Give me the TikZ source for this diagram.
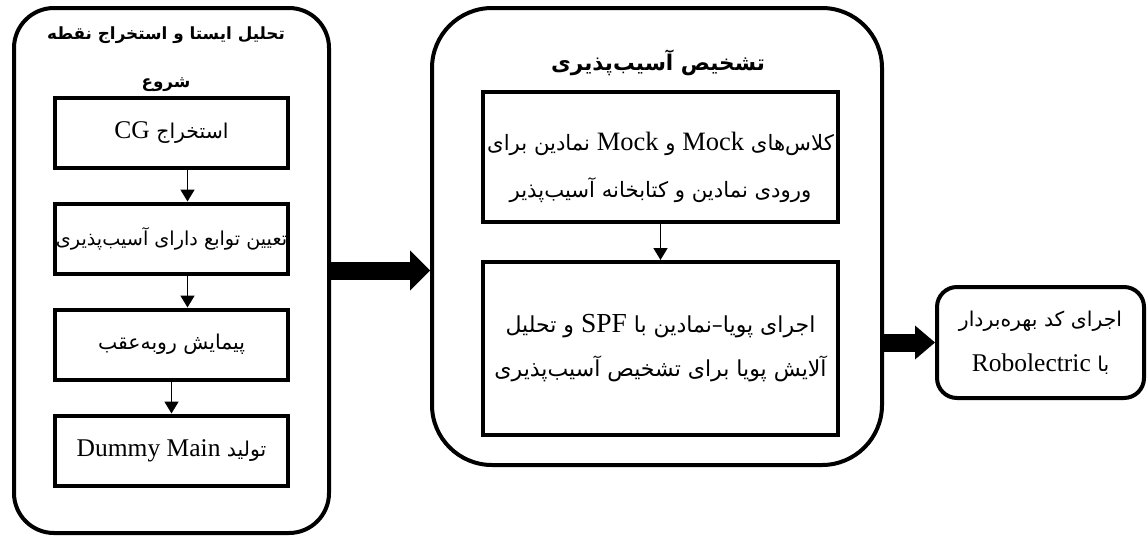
\documentclass[tikz,border=0pt]{standalone}
\usepackage{fontspec}
\setmainfont{Liberation Serif}
\newfontfamily\arabicfont[Script=Arabic,Scale=0.8]{DejaVu Sans}
\TeXXeTstate=1
\usetikzlibrary{arrows.meta,positioning}
\newcommand{\fa}[1]{{\arabicfont\beginR #1\endR}}
\newcommand{\la}[1]{{\rmfamily\beginL #1\endL}}

\begin{document}
\begin{tikzpicture}[x=1pt,y=-1pt,
    outer/.style={draw,line width=4pt,rounded corners=#1,inner sep=0pt},
    txt/.style={align=center,font=\fontsize{25.5}{45}\selectfont},
    box/.style={draw,line width=4pt,txt,inner sep=0pt},
    flow/.style={line width=1.8pt,-{Triangle[length=12pt,width=14pt]}},
    fat/.style={line width=18pt,-{Triangle[length=20pt,width=#1,line width=0pt]}},
    node distance=32pt]
\useasboundingbox (0,0) rectangle (1147,541);

\node[outer=40pt,minimum width=315pt,minimum height=525pt] (stat) at (171.5,270.5) {};
\node[txt,font=\fontsize{21}{48}\selectfont\bfseries] (stattitle) at (166,59) {\fa{تحلیل ایستا و استخراج نقطه}\\\fa{شروع}};

\node[box,minimum width=233pt,minimum height=70pt] (cg) at (171.5,132.5) {\fa{استخراج \la{CG}}};
\node[box,minimum width=233pt,minimum height=70pt,below=of cg,font=\fontsize{24}{45}\selectfont] (vul) {\fa{تعیین توابع دارای آسیب^^^^200cپذیری}};
\node[box,minimum width=233pt,minimum height=70pt,below=of vul] (back) {\fa{پیمایش روبه^^^^200cعقب}};
\node[box,minimum width=233pt,minimum height=70pt,below=of back] (dummy) {\fa{تولید \la{Dummy Main}}};

\node[outer=60pt,minimum width=450pt,minimum height=457pt] (dyn) at (657,236.5) {};
\node[txt,font=\fontsize{27}{45}\selectfont\bfseries] (dyntitle) at (658,63) {\fa{تشخیص آسیب^^^^200cپذیری}};

\node[box,minimum width=355pt,minimum height=130pt,
    label={[txt,yshift=-10pt,font=\fontsize{26.5}{47}\selectfont]center:{\fa{کلاس^^^^200cهای \la{Mock} و \la{Mock} نمادین برای}\\\fa{ورودی نمادین و کتابخانه آسیب^^^^200cپذیر}}}] (mock) at (660.5,157) {};
\node[box,minimum width=355pt,minimum height=173pt,below=36pt of mock,font=\fontsize{27.5}{44}\selectfont] (spf) {\fa{اجرای پویا–نمادین با \la{SPF} و تحلیل}\\\fa{آلایش پویا برای تشخیص آسیب^^^^200cپذیری}};

\node[box,rounded corners=20pt,minimum width=207pt,minimum height=111pt] (exploit) at (1040.5,342.5) {\fa{اجرای کد بهره^^^^200cبردار}\\\fa{با \la{Robolectric}}};

\draw[flow] ([xshift=16pt]cg.south) -- ([xshift=16pt]vul.north);
\draw[flow] ([xshift=16pt]vul.south) -- ([xshift=16pt]back.north);
\draw[flow] (back) -- (dummy);
\draw[flow] (mock) -- (spf);
\draw[fat=40pt] (stat.east) -- (stat.east -| dyn.west);
\draw[fat=34pt] (dyn.east |- exploit.west) -- (exploit.west);
\end{tikzpicture}
\end{document}
